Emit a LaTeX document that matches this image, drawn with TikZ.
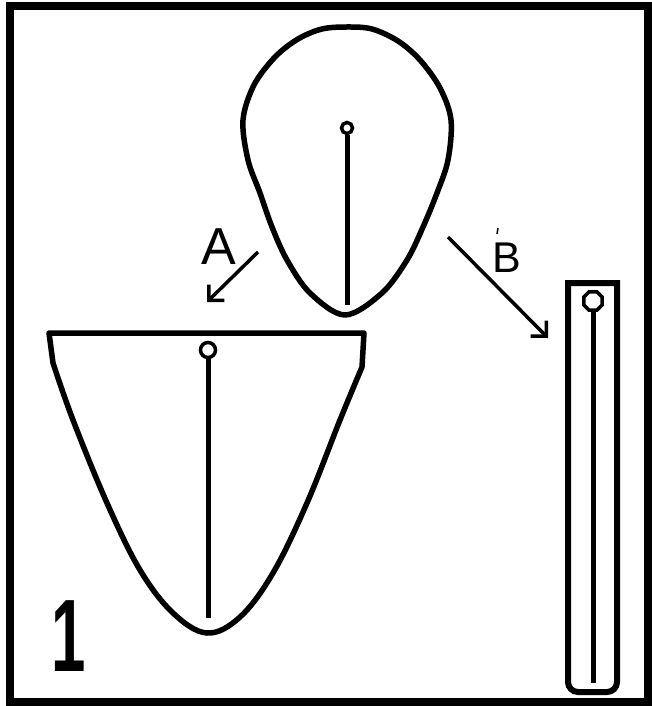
\documentclass[tikz,border=0pt]{standalone}
\usepackage{fontspec}
\setmainfont{Liberation Sans}
\usetikzlibrary{arrows.meta,shapes.geometric}
\begin{document}
\begin{tikzpicture}[x=1pt,y=-1pt,
  outline/.style={line width=5.5pt,line join=round,line cap=round},
  stem/.style={line width=5pt},
  eye/.style={line width=3.5pt,fill=white},
  pointer/.style={line width=3.5pt,-{Straight Barb[length=11pt,width=22pt,line width=3.5pt]}},
  lbl/.style={inner sep=0pt,font=\fontsize{52}{52}\selectfont}]
\useasboundingbox (0,0) rectangle (652,706);
% frame
\draw[line width=8pt] (10,6) rectangle (648,702);
% top balloon
\draw[outline] plot[smooth cycle,tension=0.55] coordinates {
 (347,27) (372,29) (398,41) (420,60) (440,88) (451,120) (448,160) (437,193) (423,227)
 (407,260) (382,293) (345,315) (310,293) (287,260) (272,227) (260,193)
 (248,160) (243,120) (254,85) (275,57) (298,39) (322,29)};
\node[circle,draw,eye,minimum size=11pt,inner sep=0pt] (e1) at (347,128) {};
\coordinate (s1) at (347,305);
\draw[stem] (e1.south) -- (s1);
% bottom-left balloon
\draw[outline] (53,363) -- (49,333) -- (364,333) -- (362,367)
 -- plot[smooth,tension=0.6] coordinates {(362,367) (340,420) (307,503) (273,573)
 (240,617) (207,633) (173,613) (140,570) (107,503) (73,420) (53,363)};
\node[circle,draw,eye,minimum size=15pt,inner sep=0pt] (e2) at (208,350) {};
\coordinate (s2) at (208,618);
\draw[stem] (e2.south) -- (s2);
% tall tube
\draw[line width=6pt,line join=miter] (568,283) -- (617,283) -- (617,682)
 to[out=-90,in=0] (607,692) -- (578,692) to[out=180,in=-90] (568,682) -- cycle;
\node[regular polygon,regular polygon sides=8,draw,eye,minimum size=20pt,inner sep=0pt] (e3) at (593,301) {};
\coordinate (s3) at (593,683);
\draw[stem] (e3.south) -- (s3);
% arrows
\coordinate (a0) at (258,252);
\coordinate (a1) at (207,302);
\draw[pointer] (a0) -- (a1);
\node[lbl] (la) at (219,247) {A};
\coordinate (b0) at (448,237);
\coordinate (b1) at (548,338);
\draw[pointer] (b0) -- (b1);
\node[lbl,font=\fontsize{43}{43}\selectfont] (lb) at (507,258) {B};
\coordinate (t0) at (498,228);
\coordinate (t1) at (497,234);
\draw[line width=1.5pt] (t0) -- (t1);
% figure number
\node[inner sep=0pt,font=\fontsize{103}{103}\selectfont\bfseries] (n1) at (69,636) {\scalebox{0.6}[1]{1}};
\end{tikzpicture}
\end{document}
